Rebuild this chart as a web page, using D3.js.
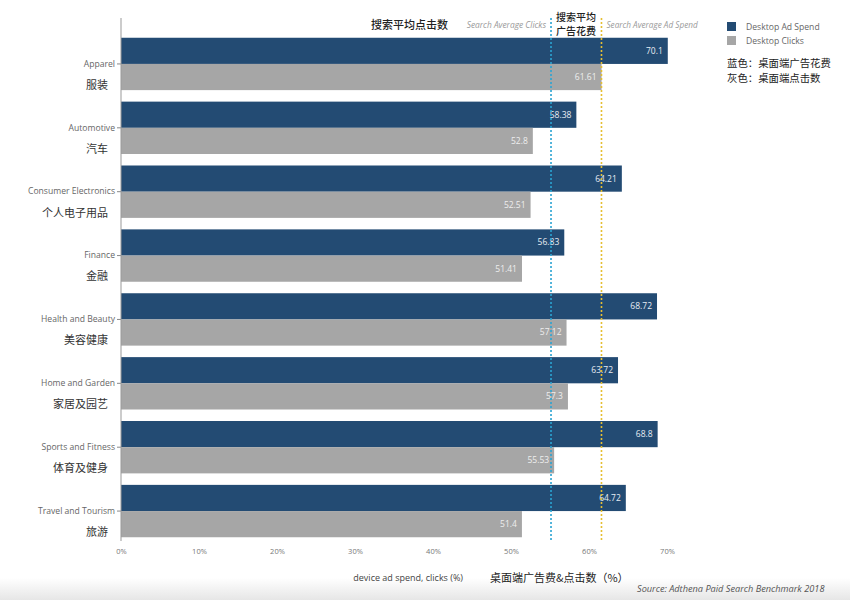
<!DOCTYPE html>
<html><head><meta charset="utf-8">
<script src="https://cdn.jsdelivr.net/npm/d3@7"></script>
<style>body{margin:0;background:#fff}svg{display:block}</style>
</head><body><svg id="c" width="850" height="600"></svg>
<script>
const categories = ["Apparel","Automotive","Consumer Electronics","Finance","Health and Beauty","Home and Garden","Sports and Fitness","Travel and Tourism"];
const categoriesZh = ["服装","汽车","个人电子用品","金融","美容健康","家居及园艺","体育及健身","旅游"];
const adSpend = [70.1,58.38,64.21,56.83,68.72,63.72,68.8,64.72];
const clicks = [61.61,52.8,52.51,51.41,57.12,57.3,55.53,51.4];
const seriesNames = ["Desktop Ad Spend","Desktop Clicks"];
const avgClicks = 55.13;
const avgAdSpend = 61.6;
const xTicks = [0,10,20,30,40,50,60,70];

const svg = d3.select("#c");
const FONT = "'Open Sans', 'Noto Sans', sans-serif";
const CJK = "'Noto Sans CJK SC', sans-serif";
const colors = ["#234b73","#a6a6a6"];

// bottom grey band of screenshot
const defs = svg.append("defs");
const g1 = defs.append("linearGradient").attr("id","bg").attr("x1",0).attr("x2",0).attr("y1",0).attr("y2",1);
g1.append("stop").attr("offset","0%").attr("stop-color","#fff");
g1.append("stop").attr("offset","100%").attr("stop-color","#e6e6e6");
svg.append("rect").attr("x",0).attr("y",578).attr("width",850).attr("height",22).attr("fill","url(#bg)");

const x = d3.scaleLinear().domain([0,70]).range([121,667]);
const y = d3.scaleBand().domain(categories).range([32,543]).paddingInner(0.18).paddingOuter(0.09);
const ys = d3.scaleBand().domain(seriesNames).range([0,y.bandwidth()]);

const data = categories.map((c,i)=>({c, zh:categoriesZh[i], vals:[adSpend[i],clicks[i]]}));

const rows = svg.append("g").selectAll("g").data(data).join("g")
  .attr("transform",d=>`translate(0,${y(d.c)})`);
rows.selectAll("rect").data(d=>d.vals.map((v,j)=>({v,j}))).join("rect")
  .attr("x",x(0)).attr("y",d=>ys(seriesNames[d.j]))
  .attr("width",d=>x(d.v)-x(0)).attr("height",ys.bandwidth())
  .attr("fill",d=>colors[d.j]);
rows.selectAll("text.v").data(d=>d.vals.map((v,j)=>({v,j}))).join("text")
  .attr("class","v")
  .attr("x",d=>x(d.v)-5).attr("y",d=>ys(seriesNames[d.j])+ys.bandwidth()/2)
  .attr("dy","0.35em").attr("text-anchor","end")
  .attr("font-family",FONT).attr("font-size",8.5).attr("fill",d=>d.j===0?"#e8edf3":"#eeeeee")
  .text(d=>d.v);

// y axis
const yAxis = svg.append("g").attr("transform",`translate(${x(0)},0)`)
  .call(d3.axisLeft(y).tickSize(4).tickPadding(2));
yAxis.select(".domain").remove();
yAxis.selectAll(".tick line").attr("stroke","#888");
yAxis.selectAll(".tick text").attr("font-family",FONT).attr("font-size",8.6).attr("fill","#666");
svg.append("line").attr("x1",x(0)).attr("x2",x(0)).attr("y1",18).attr("y2",541)
  .attr("stroke","#999").attr("stroke-width",1);

// Chinese category labels
svg.append("g").selectAll("text").data(data).join("text")
  .attr("x",108).attr("y",d=>y(d.c)+y.bandwidth()/2+21)
  .attr("dy","0.35em").attr("text-anchor","end")
  .attr("font-family",CJK).attr("font-size",11).attr("fill","#333")
  .text(d=>d.zh);

// x axis
const xAxis = svg.append("g").attr("transform","translate(0,541)")
  .call(d3.axisBottom(x).tickValues(xTicks).tickFormat(d=>d+"%").tickSize(0).tickPadding(8));
xAxis.select(".domain").remove();
xAxis.selectAll(".tick text").attr("font-family",FONT).attr("font-size",7.5).attr("fill","#777");

// average lines
svg.append("line").attr("x1",x(avgClicks)).attr("x2",x(avgClicks)).attr("y1",18).attr("y2",542)
  .attr("stroke","#2aa3d2").attr("stroke-width",1.6).attr("stroke-dasharray","2,2");
svg.append("line").attr("x1",x(avgAdSpend)).attr("x2",x(avgAdSpend)).attr("y1",18).attr("y2",542)
  .attr("stroke","#e5bf32").attr("stroke-width",1.6).attr("stroke-dasharray","2,2");

// top annotations
svg.append("text").attr("x",448).attr("y",29).attr("text-anchor","end")
  .attr("font-family",CJK).attr("font-size",11).attr("font-weight",500).attr("fill","#222").text("搜索平均点击数");
svg.append("text").attr("x",x(avgClicks)-5).attr("y",28).attr("text-anchor","end")
  .attr("font-family",FONT).attr("font-style","italic").attr("font-size",8.4).attr("fill","#999").text("Search Average Clicks");
svg.append("text").attr("x",556).attr("y",20.5)
  .attr("font-family",CJK).attr("font-size",10).attr("font-weight",500).attr("fill","#222").text("搜索平均");
svg.append("text").attr("x",556).attr("y",35.2)
  .attr("font-family",CJK).attr("font-size",10).attr("font-weight",500).attr("fill","#222").text("广告花费");
svg.append("text").attr("x",x(avgAdSpend)+5).attr("y",28)
  .attr("font-family",FONT).attr("font-style","italic").attr("font-size",8.2).attr("fill","#999").text("Search Average Ad Spend");

// legend
const leg = svg.append("g").attr("transform","translate(727,22)");
seriesNames.forEach((s,i)=>{
  leg.append("rect").attr("x",0).attr("y",i*14).attr("width",9).attr("height",9).attr("fill",colors[i]);
  leg.append("text").attr("x",19).attr("y",i*14+4.5).attr("dy","0.35em")
    .attr("font-family",FONT).attr("font-size",8.6).attr("fill","#666").text(s);
});
svg.append("text").attr("x",727).attr("y",67).attr("font-family",CJK).attr("font-size",10.4).attr("fill","#222").text("蓝色：桌面端广告花费");
svg.append("text").attr("x",727).attr("y",82.4).attr("font-family",CJK).attr("font-size",10.4).attr("fill","#222").text("灰色：桌面端点击数");

// axis titles
svg.append("text").attr("x",463).attr("y",581).attr("text-anchor","end")
  .attr("font-family",FONT).attr("font-size",9).attr("fill","#444").text("device ad spend, clicks (%)");
svg.append("text").attr("x",490).attr("y",582)
  .attr("font-family",CJK).attr("font-size",11).attr("fill","#222").text("桌面端广告费&点击数（%）");
svg.append("text").attr("x",637).attr("y",592)
  .attr("font-family",FONT).attr("font-style","italic").attr("font-size",9.2).attr("fill","#555").text("Source: Adthena Paid Search Benchmark 2018");
</script></body></html>
